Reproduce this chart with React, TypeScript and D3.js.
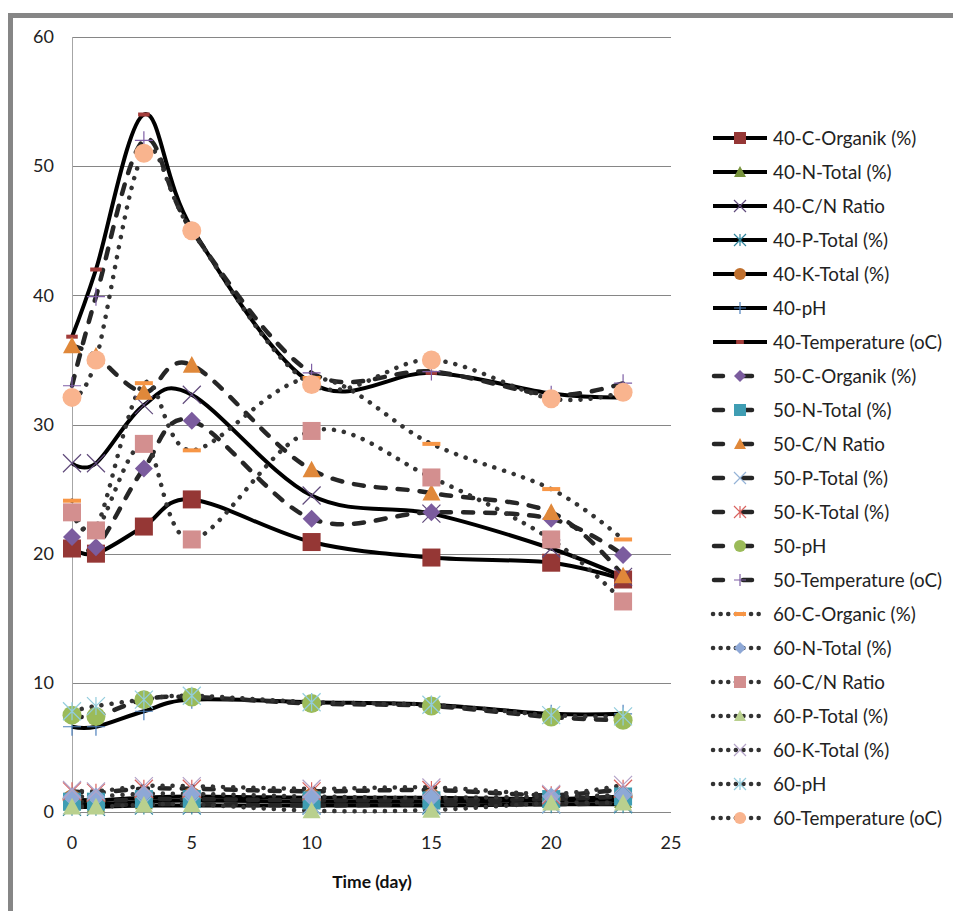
import React from 'react';
import * as d3 from 'd3';

const days = [0, 1, 3, 5, 10, 15, 20, 23];
const xTicks = [0, 5, 10, 15, 20, 25];
const yTicks = [0, 10, 20, 30, 40, 50, 60];

const org40 = [20.4, 20.0, 22.1, 24.2, 20.9, 19.7, 19.3, 18.0];
const nTot40 = [0.7, 0.6, 0.8, 0.9, 0.8, 0.8, 0.9, 0.9];
const cn40 = [27.0, 27.0, 31.5, 32.3, 24.5, 23.1, 20.4, 18.2];
const pTot40 = [0.4, 0.4, 0.5, 0.5, 0.5, 0.5, 0.6, 0.6];
const kTot40 = [1.0, 0.9, 1.1, 1.2, 1.1, 1.1, 1.0, 1.2];
const ph40 = [6.6, 6.6, 7.8, 8.7, 8.5, 8.3, 7.6, 7.6];
const temp40 = [36.8, 42.0, 54.0, 45.2, 33.2, 34.0, 32.4, 32.1];

const org50 = [21.3, 20.5, 26.6, 30.3, 22.7, 23.2, 22.7, 19.9];
const nTot50 = [0.8, 0.8, 1.0, 1.0, 0.9, 0.9, 1.0, 1.2];
const cn50 = [36.1, 35.3, 32.5, 34.6, 26.5, 24.7, 23.2, 18.3];
const pTot50 = [0.5, 0.5, 0.6, 0.6, 0.5, 0.6, 0.6, 0.7];
const kTot50 = [1.6, 1.5, 1.8, 1.8, 1.6, 1.7, 1.3, 1.8];
const ph50 = [7.5, 7.4, 8.7, 8.9, 8.4, 8.2, 7.35, 7.1];
const temp50 = [33.0, 39.9, 52.0, 45.0, 34.0, 34.1, 32.3, 33.2];

const org60 = [24.1, 22.0, 33.2, 28.0, 33.6, 28.5, 25.0, 21.1];
const nTot60 = [1.2, 1.2, 1.4, 1.4, 1.2, 1.1, 1.2, 1.3];
const cn60 = [23.2, 21.8, 28.5, 21.1, 29.5, 25.9, 21.1, 16.3];
const pTot60 = [0.4, 0.4, 0.55, 0.6, 0.1, 0.15, 0.7, 0.7];
const kTot60 = [1.7, 1.6, 2.0, 2.0, 1.8, 1.9, 1.4, 2.1];
const ph60 = [7.8, 8.2, 8.7, 9.0, 8.5, 8.3, 7.5, 7.4];
const temp60 = [32.1, 35.0, 51.0, 45.0, 33.1, 35.0, 32.0, 32.5];

const seriesNames = [
  '40-C-Organik (%)', '40-N-Total (%)', '40-C/N Ratio', '40-P-Total (%)', '40-K-Total (%)', '40-pH', '40-Temperature (oC)',
  '50-C-Organik (%)', '50-N-Total (%)', '50-C/N Ratio', '50-P-Total (%)', '50-K-Total (%)', '50-pH', '50-Temperature (oC)',
  '60-C-Organic (%)', '60-N-Total (%)', '60-C/N Ratio', '60-P-Total (%)', '60-K-Total (%)', '60-pH', '60-Temperature (oC)',
];
const seriesValues = [
  org40, nTot40, cn40, pTot40, kTot40, ph40, temp40,
  org50, nTot50, cn50, pTot50, kTot50, ph50, temp50,
  org60, nTot60, cn60, pTot60, kTot60, ph60, temp60,
];
const seriesMarkers = [
  'square', 'triangle', 'x', 'star', 'circle', 'plus', 'smalldash',
  'diamond', 'square', 'triangle', 'x', 'star', 'circle', 'plus',
  'dash', 'diamond', 'square', 'triangle', 'x', 'star', 'circle',
];
const seriesColors = [
  '#953735', '#77933C', '#604A7B', '#31859C', '#C0702E', '#4F81BD', '#A33C3A',
  '#7B5C9E', '#3F9DB3', '#E0883A', '#95B3D7', '#D9625E', '#9BBB59', '#7F5FA6',
  '#F79646', '#8EA8D6', '#D38F8F', '#B9D08E', '#B3A2C7', '#93CDDD', '#F9B48E',
];
const seriesStyles = [
  'solid', 'solid', 'solid', 'solid', 'solid', 'solid', 'solid',
  'dashed', 'dashed', 'dashed', 'dashed', 'dashed', 'dashed', 'dashed',
  'dotted', 'dotted', 'dotted', 'dotted', 'dotted', 'dotted', 'dotted',
];

const FONT = 'Lato, "Open Sans", sans-serif';

const lineStyle: Record<string, any> = {
  solid: { stroke: '#000', strokeWidth: 4, strokeDasharray: undefined, strokeLinecap: 'butt' },
  dashed: { stroke: '#262626', strokeWidth: 4.5, strokeDasharray: '10 12', strokeLinecap: 'round' },
  dotted: { stroke: '#333', strokeWidth: 4.5, strokeDasharray: '0.1 10', strokeLinecap: 'round' },
};

function Marker({ type, x, y, s, color }: { type: string; x: number; y: number; s: number; color: string }) {
  const h = s / 2;
  switch (type) {
    case 'square':
      return <rect x={x - h} y={y - h} width={s} height={s} fill={color} />;
    case 'triangle':
      return <path d={`M${x},${y - h}L${x + h},${y + h * 0.85}L${x - h},${y + h * 0.85}Z`} fill={color} />;
    case 'diamond':
      return <path d={`M${x},${y - h}L${x + h},${y}L${x},${y + h}L${x - h},${y}Z`} fill={color} />;
    case 'circle':
      return <circle cx={x} cy={y} r={h} fill={color} />;
    case 'x':
      return <path d={`M${x - h},${y - h}L${x + h},${y + h}M${x - h},${y + h}L${x + h},${y - h}`} stroke={color} strokeWidth={1.2} fill="none" />;
    case 'star':
      return <path d={`M${x - h},${y - h}L${x + h},${y + h}M${x - h},${y + h}L${x + h},${y - h}M${x},${y - h}L${x},${y + h}`} stroke={color} strokeWidth={1.2} fill="none" />;
    case 'plus':
      return <path d={`M${x - h},${y}L${x + h},${y}M${x},${y - h}L${x},${y + h}`} stroke={color} strokeWidth={1.2} fill="none" />;
    case 'dash':
      return <rect x={x - h} y={y - 2} width={s} height={4} fill={color} />;
    case 'smalldash':
      return <rect x={x - s * 0.32} y={y - 2} width={s * 0.64} height={4} fill={color} />;
    default:
      return null;
  }
}

export default function App() {
  const x = d3.scaleLinear().domain([0, 25]).range([72, 671]);
  const y = d3.scaleLinear().domain([0, 60]).range([812, 37]);
  const line = d3
    .line<number>()
    .x((_, i) => x(days[i]))
    .y((d) => y(d))
    .curve(d3.curveCardinal.tension(0));

  const legendY = (i: number) => 138 + i * 34;

  return (
    <svg width={953} height={911} style={{ position: 'absolute', left: 0, top: 0, background: '#fff' }}>
      <rect x={0} y={0} width={953} height={911} fill="#fff" />
      {/* outer frame */}
      <path d="M10.5,920 L10.5,15.5 L960,15.5" fill="none" stroke="#868686" strokeWidth={5} />

      {/* gridlines */}
      {yTicks.map((t) => (
        <line key={'g' + t} x1={72} x2={671} y1={Math.round(y(t)) + 0.5} y2={Math.round(y(t)) + 0.5} stroke="#868686" strokeWidth={1} />
      ))}
      <line x1={72.5} x2={72.5} y1={y(60)} y2={y(0)} stroke="#a6a6a6" strokeWidth={1} />

      {/* y tick labels */}
      {yTicks.map((t) => (
        <text key={'yl' + t} x={54} y={y(t)} dy="0.35em" textAnchor="end" fontFamily={FONT} fontSize={18} fill="#222">
          {t}
        </text>
      ))}
      {/* x tick labels */}
      {xTicks.map((t) => (
        <text key={'xl' + t} x={x(t)} y={843} dy="0.35em" textAnchor="middle" fontFamily={FONT} fontSize={18} fill="#222">
          {t}
        </text>
      ))}
      <text x={372} y={882} dy="0.35em" textAnchor="middle" fontFamily={FONT} fontSize={17.5} fontWeight="bold" fill="#111">
        Time (day)
      </text>

      {/* lines */}
      {seriesValues.map((vals, i) => {
        const st = lineStyle[seriesStyles[i]];
        return (
          <path
            key={'l' + i}
            d={line(vals) || ''}
            fill="none"
            stroke={st.stroke}
            strokeWidth={st.strokeWidth}
            strokeDasharray={st.strokeDasharray}
            strokeLinecap={st.strokeLinecap}
            strokeLinejoin="round"
          />
        );
      })}

      {/* markers */}
      {seriesValues.map((vals, i) => (
        <g key={'m' + i}>
          {vals.map((v, j) => (
            <Marker key={j} type={seriesMarkers[i]} x={x(days[j])} y={y(v)} s={seriesMarkers[i] === 'circle' ? 19 : 18} color={seriesColors[i]} />
          ))}
        </g>
      ))}

      {/* legend */}
      {seriesNames.map((name, i) => {
        const st = lineStyle[seriesStyles[i]];
        const ly = legendY(i);
        const x2 = seriesStyles[i] === 'solid' ? 767 : seriesStyles[i] === 'dashed' ? 755 : 762;
        return (
          <g key={'lg' + i}>
            <line
              x1={seriesStyles[i] === 'dashed' ? 714 : 713}
              x2={x2}
              y1={ly}
              y2={ly}
              stroke={st.stroke}
              strokeWidth={st.strokeWidth}
              strokeDasharray={seriesStyles[i] === 'dotted' ? '0.1 7.5' : seriesStyles[i] === 'dashed' ? '9 20' : undefined}
              strokeLinecap={st.strokeLinecap}
            />
            <Marker type={seriesMarkers[i]} x={740} y={ly} s={12} color={seriesColors[i]} />
            <text x={773} y={ly} dy="0.35em" fontFamily={FONT} fontSize={18.8} fill="#222">
              {name}
            </text>
          </g>
        );
      })}
    </svg>
  );
}
